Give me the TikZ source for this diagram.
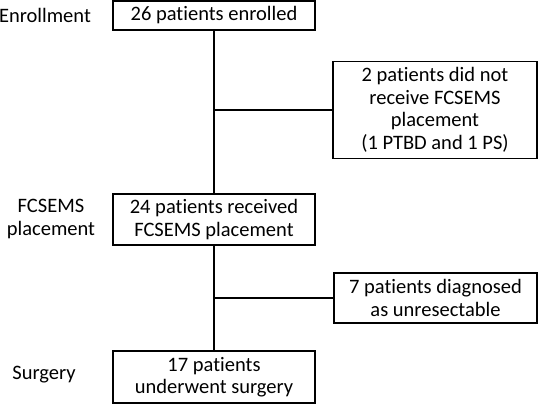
\documentclass[tikz,border=0pt]{standalone}
\usepackage{fontspec}
\setmainfont[RawFeature={-liga;-calt;-clig;-dlig}]{Carlito}

\begin{document}
\begin{tikzpicture}[x=1pt,y=1pt,
		box/.style={draw, line width=1.8pt, align=center, inner sep=0pt,
			font=\fontsize{20.5}{22.5}\selectfont},
		stage/.style={align=center, inner sep=0pt, font=\fontsize{20.5}{22.5}\selectfont},
		link/.style={line width=1.8pt}]
		\useasboundingbox (0,0) rectangle (539,404);
		\node[stage] (enroll) at (45,389) {Enrollment};
		\node[stage] (place) at (51,185) {FCSEMS\\placement};
		\node[stage] (surg) at (44,29) {Surgery};
		\node[box, minimum width=202pt, minimum height=29pt] (enrolled) at (214,388.5) {26 patients enrolled};
		\node[box, minimum width=202pt, minimum height=51pt] (received) at (214,184.5) {24 patients received\\FCSEMS placement};
		\node[box, minimum width=202pt, minimum height=52pt] (surgery) at (214,27) {17 patients\\underwent surgery};
		\node[box, minimum width=204pt, minimum height=97pt] (notplaced) at (435,294) {2 patients did not\\receive FCSEMS\\placement\\(1 PTBD and 1 PS)};
		\node[box, minimum width=203pt, minimum height=50pt] (unres) at (435.5,106) {7 patients diagnosed\\as unresectable};
	%	branch points on the main line
		\coordinate (split1) at (214,294);
		\coordinate (split2) at (214,106);
		\draw[link] (enrolled) -- (enrolled |- received.north);
		\draw[link] (received) -- (received |- surgery.north);
		\draw[link] (split1) -- (notplaced.west);
		\draw[link] (split2) -- (unres.west);
	\end{tikzpicture}
\end{document}
